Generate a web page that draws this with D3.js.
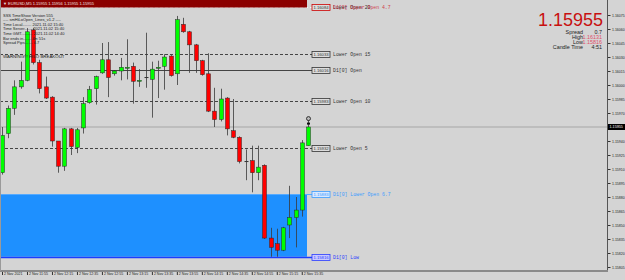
<!DOCTYPE html>
<html>
<head>
<meta charset="utf-8">
<script src="https://cdn.jsdelivr.net/npm/d3@7"></script>
<style>
  body { margin: 0; background: #d4d4d4; overflow: hidden; }
  svg { display: block; }
  text { font-family: "Liberation Sans", Arial, sans-serif; }
  .mono { font-family: "Liberation Mono", "DejaVu Sans Mono", monospace; }
</style>
</head>
<body>
<div id="chart"></div>
<script>
// EURUSD M5, 2 Nov 2021
const barTimes = ["11:35","11:40","11:45","11:50","11:55","12:00","12:05","12:10","12:15","12:20",
  "12:25","12:30","12:35","12:40","12:45","12:50","12:55","13:00","13:05","13:10",
  "13:15","13:20","13:25","13:30","13:35","13:40","13:45","13:50","13:55","14:00",
  "14:05","14:10","14:15","14:20","14:25","14:30","14:35","14:40","14:45","14:50",
  "14:55","15:00","15:05","15:10","15:15","15:20","15:25","15:30","15:35","15:40"]

const opens = [1.15906,1.15948,1.15975,1.15998,1.16005,1.16059,1.16024,1.15998,1.15987,1.15940,
  1.15913,1.15953,1.15933,1.15954,1.15981,1.15996,1.16013,1.16027,1.16012,1.16015,
  1.16018,1.16020,1.16004,1.16008,1.16006,1.16018,1.16020,1.16031,1.16012,1.16065,
  1.16057,1.16043,1.16026,1.16012,1.15972,1.15963,1.15986,1.15951,1.15944,1.15918,
  1.15919,1.15906,1.15914,1.15836,1.15830,1.15823,1.15850,1.15858,1.15866,1.15935]
const highs = [1.15955,1.15978,1.16005,1.16025,1.16061,1.16061,1.16027,1.16009,1.15988,1.15940,
  1.15954,1.15954,1.15954,1.15987,1.15999,1.16010,1.16045,1.16046,1.16016,1.16029,
  1.16049,1.16024,1.16017,1.16056,1.16025,1.16026,1.16033,1.16032,1.16074,1.16072,
  1.16058,1.16044,1.16027,1.16034,1.15997,1.15996,1.15987,1.15985,1.15945,1.15931,
  1.15935,1.15935,1.15915,1.15847,1.15846,1.15848,1.15892,1.15880,1.15941,1.15965]
const lows = [1.15904,1.15943,1.15968,1.15996,1.16004,1.16022,1.15991,1.15985,1.15934,1.15906,
  1.15908,1.15925,1.15927,1.15948,1.15980,1.15979,1.16012,1.15987,1.16010,1.16005,
  1.16006,1.15980,1.15998,1.15997,1.15965,1.15986,1.15995,1.16009,1.16000,1.16056,
  1.16013,1.16013,1.16010,1.15971,1.15955,1.15961,1.15946,1.15943,1.15916,1.15898,
  1.15885,1.15898,1.15835,1.15816,1.15816,1.15822,1.15836,1.15826,1.15859,1.15935]
const closes = [1.15946,1.15975,1.15998,1.16005,1.16057,1.16024,1.15996,1.15986,1.15940,1.15913,
  1.15953,1.15934,1.15952,1.15980,1.15995,1.16009,1.16027,1.16008,1.16015,1.16019,
  1.16019,1.16004,1.16005,1.16008,1.16017,1.16019,1.16030,1.16010,1.16070,1.16057,
  1.16043,1.16026,1.16011,1.15972,1.15963,1.15985,1.15953,1.15944,1.15918,1.15918,
  1.15906,1.15912,1.15836,1.15826,1.15823,1.15847,1.15858,1.15866,1.15938,1.15955]

const priceTicks = [1.16075,1.16060,1.16045,1.16030,1.16015,1.16000,1.15985,1.15970,
  1.15940,1.15925,1.15910,1.15895,1.15880,1.15865,1.15850,1.15835,1.15820,1.15805]

const timeTickBars = ["11:35","11:55","12:15","12:35","12:55","13:15","13:35","13:55","14:15","14:35","14:55","15:15","15:35"]
const timeTickLabels = ["2 Nov 2021","2 Nov 11:55","2 Nov 12:15","2 Nov 12:35","2 Nov 12:55","2 Nov 13:15",
  "2 Nov 13:35","2 Nov 13:55","2 Nov 14:15","2 Nov 14:35","2 Nov 14:55","2 Nov 15:15","2 Nov 15:35"]

const levelNames = ["Lower Open 20","Lower Open 15","D1[0] Open","Lower Open 10","Lower Open 5","D1[0] Lower Open 6.7","D1[0] Low"]
const levelPrices = [1.16084,1.16033,1.16016,1.15983,1.15932,1.15883,1.15816]
const levelKinds = ["lower","lower","open","lower","lower","zoneTop","zoneLow"]

const bid = 1.15955
const dayHigh = 1.16131
const dayLow = 1.15816
const spread = "0.7"
const candleTime = "4:51"
const markerPrice = 1.15964

const infoLines = ["SSS TimeShow Version 555",
  "---- smHiLoOpen_Lines_v1.2 ----",
  "Time Local........ 2021.11.02 15:40",
  "Time Server....... 2021.11.02 15:40",
  "Time GMT.......... 2021.11.02 14:40",
  "Bar ends in....... 4m 51s",
  "Spread Pips....... 0.7"]


// layout

const W = 625, H = 280
const plotR = 607, plotB = 271

const svg = d3.select("#chart").append("svg")
  .attr("width", W)
  .attr("height", H)

svg.append("rect").attr("width", W).attr("height", H).attr("fill", "#d4d4d4")

const x = d3.scalePoint().domain(barTimes).range([2, 308])
const y = d3.scaleLinear().domain([1.15805, 1.16075]).range([267, 15])

const levelStyle = {
  lower:   { stroke: "#444", dash: "3,2", box: "#333", boxFill: "#dcdcdc", text: "#333" },
  open:    { stroke: "#444", dash: null,  box: "#333", boxFill: "#dcdcdc", text: "#333" },
  zoneTop: { stroke: "#55aaff", dash: null, box: "#3a9bff", boxFill: "#d8e8ff", text: "#3a9bff" },
  zoneLow: { stroke: "#1a3cff", dash: null, box: "#2a3cff", boxFill: "#c9c9ff", text: "#2a3cff" }
}

// blue zone between D1 lower open and D1 low
const zoneTop = levelPrices[levelKinds.indexOf("zoneTop")]
const zoneLow = levelPrices[levelKinds.indexOf("zoneLow")]
svg.append("rect")
  .attr("x", 0)
  .attr("y", y(zoneTop))
  .attr("width", x(barTimes[barTimes.length - 1]) - 1)
  .attr("height", y(zoneLow) - y(zoneTop))
  .attr("fill", "#1e90ff")

// current price line
svg.append("line")
  .attr("x1", 0).attr("x2", plotR)
  .attr("y1", y(bid)).attr("y2", y(bid))
  .attr("stroke", "#a6a6a6").attr("stroke-width", 1)

// level lines
const lv = svg.append("g")
levelNames.forEach(function (name, i) {
  const st = levelStyle[levelKinds[i]]
  const yy = Math.round(y(levelPrices[i])) + 0.5
  lv.append("line")
    .attr("x1", 0).attr("x2", 312)
    .attr("y1", yy).attr("y2", yy)
    .attr("stroke", i == 0 ? "#f4f4f4" : st.stroke)
    .attr("stroke-width", levelKinds[i] == "zoneLow" ? 1.5 : 1)
    .attr("stroke-dasharray", st.dash)
  lv.append("rect")
    .attr("x", 312).attr("y", yy - 3)
    .attr("width", 18).attr("height", 6)
    .attr("fill", st.boxFill)
    .attr("stroke", i == 0 ? "#c00" : st.box)
    .attr("stroke-width", 0.8)
  lv.append("text")
    .attr("x", 321).attr("y", yy + 1.5)
    .attr("text-anchor", "middle")
    .attr("font-size", 4.2)
    .attr("fill", st.text)
    .text(levelPrices[i].toFixed(5))
  lv.append("text")
    .attr("class", "mono")
    .attr("x", 333).attr("y", yy + 1.6)
    .attr("font-size", 4.8)
    .attr("fill", st.text)
    .text(name)
})
// red high label overlapping the top level
lv.append("text")
  .attr("class", "mono")
  .attr("x", 333).attr("y", Math.round(y(levelPrices[0])) + 1.5)
  .attr("font-size", 4.8)
  .attr("fill", "#d02030")
  .attr("opacity", 0.85)
  .text("D1[0] Upper Open 4.7")

// candles
const bars = barTimes.map((t, i) => ({ t: t, o: opens[i], h: highs[i], l: lows[i], c: closes[i] }))

const cg = svg.append("g")
cg.selectAll("line.wick")
  .data(bars)
  .join("line")
  .attr("class", "wick")
  .attr("x1", d => Math.round(x(d.t)) + 0.5)
  .attr("x2", d => Math.round(x(d.t)) + 0.5)
  .attr("y1", d => y(d.h))
  .attr("y2", d => y(d.l))
  .attr("stroke", "#3a3a3a")
  .attr("stroke-width", 0.8)

cg.selectAll("rect.body")
  .data(bars.filter(d => d.o != d.c))
  .join("rect")
  .attr("class", "body")
  .attr("x", d => Math.round(x(d.t)) - 1.5)
  .attr("y", d => y(Math.max(d.o, d.c)))
  .attr("width", 4)
  .attr("height", d => Math.max(1, Math.abs(y(d.o) - y(d.c))))
  .attr("fill", d => d.c > d.o ? "#00ff00" : "#ff0000")
  .attr("stroke", "#2a2a2a")
  .attr("stroke-width", 0.5)

cg.selectAll("line.doji")
  .data(bars.filter(d => d.o == d.c))
  .join("line")
  .attr("class", "doji")
  .attr("x1", d => Math.round(x(d.t)) - 1.5)
  .attr("x2", d => Math.round(x(d.t)) + 2.5)
  .attr("y1", d => y(d.o))
  .attr("y2", d => y(d.o))
  .attr("stroke", "#333")
  .attr("stroke-width", 1)

// marker over the last bar
const last = bars[bars.length - 1]
svg.append("circle")
  .attr("cx", Math.round(x(last.t)) + 0.5)
  .attr("cy", y(markerPrice))
  .attr("r", 2)
  .attr("fill", "#bbb")
  .attr("stroke", "#111")
  .attr("stroke-width", 0.8)
svg.append("rect")
  .attr("x", Math.round(x(last.t)) - 1)
  .attr("y", y(markerPrice) + 4)
  .attr("width", 3).attr("height", 2)
  .attr("fill", "#111")

// title bar
svg.append("rect")
  .attr("x", 0).attr("y", 0)
  .attr("width", 307).attr("height", 7.5)
  .attr("fill", "#8b0000")
svg.append("text")
  .attr("x", 3).attr("y", 5.3)
  .attr("font-size", 4)
  .attr("fill", "#f0e0e0")
  .text("\u25BC EURUSD,M5  1.15955 1.15956 1.15955 1.15955")

// info panel
svg.append("g").selectAll("text")
  .data(infoLines)
  .join("text")
  .attr("x", 3)
  .attr("y", (d, i) => 16.5 + i * 4.6)
  .attr("font-size", 4)
  .attr("fill", "#222")
  .text(d => d)

svg.append("text")
  .attr("x", 3).attr("y", 57.5)
  .attr("font-size", 4.4)
  .attr("fill", "#222")
  .text("WARNING!!! HILO BREAKOUT")

// big price and stats, top right
svg.append("text")
  .attr("x", 603).attr("y", 26)
  .attr("text-anchor", "end")
  .attr("font-size", 18)
  .attr("fill", "#c81010")
  .text(bid.toFixed(5))

const statLabels = ["Spread", "High", "Low", "Candle Time"]
const statValues = [spread, dayHigh.toFixed(5), dayLow.toFixed(5), candleTime]
const statColors = ["#222", "#e0506a", "#e0506a", "#222"]
statLabels.forEach(function (lab, i) {
  const yy = 33.5 + i * 5.3
  svg.append("text")
    .attr("x", 583).attr("y", yy)
    .attr("text-anchor", "end")
    .attr("font-size", 5.4)
    .attr("fill", "#222")
    .text(lab)
  svg.append("text")
    .attr("x", 602).attr("y", yy)
    .attr("text-anchor", "end")
    .attr("font-size", 5.4)
    .attr("fill", statColors[i])
    .text(statValues[i])
})

// axes
const yAxis = svg.append("g")
  .attr("transform", `translate(${plotR + 0.5},0)`)
  .call(d3.axisRight(y).tickValues(priceTicks).tickSize(3).tickFormat(d3.format(".5f")))
yAxis.select(".domain").remove()
yAxis.selectAll("line").attr("stroke", "#333")
yAxis.selectAll("text")
  .attr("font-size", 3.5)
  .attr("font-family", "Liberation Sans, Arial, sans-serif")
  .attr("fill", "#222")
  .attr("x", 4.5)

const xAxis = svg.append("g")
  .attr("transform", `translate(0,${plotB + 1})`)
  .call(d3.axisBottom(x).tickValues(timeTickBars).tickSize(3)
    .tickFormat(d => timeTickLabels[timeTickBars.indexOf(d)]))
xAxis.select(".domain").remove()
xAxis.selectAll("line").attr("stroke", "#333")
xAxis.selectAll("text")
  .attr("font-size", 3.6)
  .attr("font-family", "Liberation Sans, Arial, sans-serif")
  .attr("fill", "#222")
  .attr("text-anchor", "start")
  .attr("x", 1.5)
  .attr("y", 0.5)
  .attr("dy", "0.71em")

// frame
svg.append("line")
  .attr("x1", plotR + 0.5).attr("x2", plotR + 0.5)
  .attr("y1", 0).attr("y2", plotB + 1)
  .attr("stroke", "#555")
svg.append("line")
  .attr("x1", 0).attr("x2", plotR + 1)
  .attr("y1", plotB).attr("y2", plotB)
  .attr("stroke", "#8a8a8a").attr("stroke-width", 2)
svg.append("line")
  .attr("x1", 0.5).attr("x2", 0.5)
  .attr("y1", 0).attr("y2", plotB)
  .attr("stroke", "#9a9a9a")

// current price box on the axis
svg.append("rect")
  .attr("x", plotR + 1).attr("y", y(bid) - 3)
  .attr("width", 17).attr("height", 6)
  .attr("fill", "#000")
svg.append("text")
  .attr("x", plotR + 2.5).attr("y", y(bid) + 1.4)
  .attr("font-size", 3.7)
  .attr("fill", "#fff")
  .text(bid.toFixed(5))
</script>
</body>
</html>
